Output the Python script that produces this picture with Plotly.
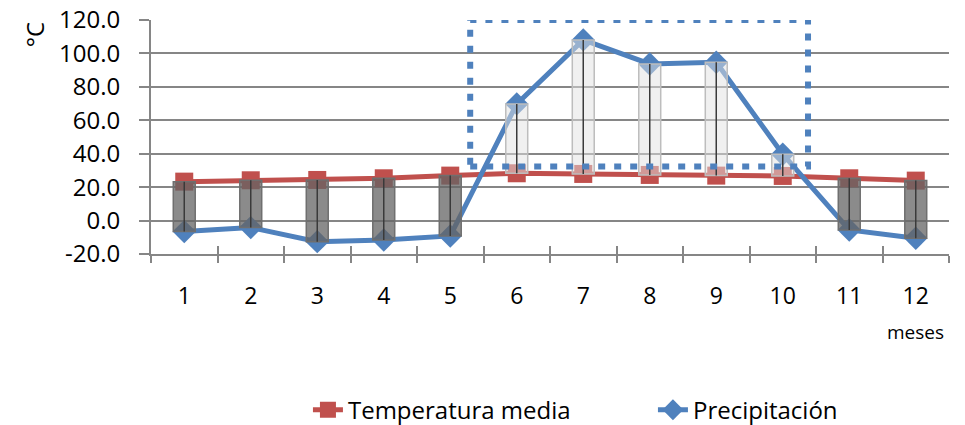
import plotly.graph_objects as go

# Monthly climate data
meses = ["1", "2", "3", "4", "5", "6", "7", "8", "9", "10", "11", "12"]
temperatura = [23.3, 24.1, 24.3, 25.3, 26.9, 28.3, 27.9, 27.3, 26.9, 26.7, 25.3, 23.9]
precipitacion = [-6.6, -4.2, -12.6, -11.6, -9.2, 69.8, 108.1, 93.7, 94.7, 39.7, -5.6, -10.6]

# Tick labels of the value axis
y_ticks = [-20, 0, 20, 40, 60, 80, 100, 120]

FONT = "Open Sans"
GRID = "#868686"
RED = "#c0504d"
BLUE = "#4f81bd"

# up/down bars between the two series
lo = [min(t, p) for t, p in zip(temperatura, precipitacion)]
hi = [max(t, p) for t, p in zip(temperatura, precipitacion)]
span = [h - l for h, l in zip(hi, lo)]
down = [p < t for t, p in zip(temperatura, precipitacion)]
bar_fill = ["rgba(100,100,100,0.75)" if d else "rgba(225,225,225,0.5)" for d in down]
bar_edge = ["#6f6f6f" if d else "#bdbdbd" for d in down]

# high-low connector lines
hl_x, hl_y = [], []
for m, l, h in zip(meses, lo, hi):
    hl_x += [m, m, None]
    hl_y += [l, h, None]

fig = go.Figure()

fig.add_trace(go.Scatter(
    x=meses, y=temperatura, name="Temperatura media", mode="lines+markers",
    line=dict(color=RED, width=5),
    marker=dict(symbol="square", size=18, color=RED),
    xaxis="x", yaxis="y",
))
fig.add_trace(go.Scatter(
    x=meses, y=precipitacion, name="Precipitación", mode="lines+markers",
    line=dict(color=BLUE, width=5),
    marker=dict(symbol="diamond", size=18, color=BLUE),
    xaxis="x", yaxis="y",
))

fig.add_trace(go.Bar(
    x=meses, y=span, base=lo, width=0.33,
    marker=dict(color=bar_fill, line=dict(color=bar_edge, width=1.5)),
    showlegend=False, hoverinfo="skip",
    xaxis="x2", yaxis="y2",
))
fig.add_trace(go.Scatter(
    x=hl_x, y=hl_y, mode="lines",
    line=dict(color="#3a3a3a", width=1.5),
    showlegend=False, hoverinfo="skip",
    xaxis="x2", yaxis="y2",
))

# dotted frame around the wet season
fig.add_shape(
    type="rect", xref="x", yref="y",
    x0=4.3, x1=9.38, y0=32.3, y1=120,
    line=dict(color=BLUE, width=6, dash="7px,9px"),
    layer="above",
)

xaxis_common = dict(
    type="category", categoryorder="array", categoryarray=meses,
    range=[-0.5, 11.5], tickson="boundaries", showgrid=False, zeroline=False,
    automargin=False,
)
yaxis_common = dict(range=[-20, 120], zeroline=False, automargin=False)

fig.update_layout(
    width=965, height=425,
    margin=dict(l=151, r=16, t=20, b=171, autoexpand=False),
    paper_bgcolor="white", plot_bgcolor="white",
    font=dict(family=FONT, size=24, color="#000000"),
    barmode="overlay",
    xaxis=dict(
        **xaxis_common,
        showline=True, linecolor=GRID, linewidth=2,
        ticks="outside", ticklen=7, tickcolor=GRID, tickwidth=2,
        ticklabelstandoff=20,
        tickfont=dict(family=FONT, size=23),
    ),
    xaxis2=dict(
        **xaxis_common, overlaying="x", anchor="y2", side="bottom",
        showline=False, showticklabels=False,
        ticks="inside", ticklen=8, tickcolor=GRID, tickwidth=2,
    ),
    yaxis=dict(
        **yaxis_common,
        tickmode="array", tickvals=y_ticks,
        ticktext=[f"{v:.1f}" for v in y_ticks],
        showgrid=True, gridcolor=GRID, gridwidth=1.5,
        showline=True, linecolor=GRID, linewidth=2,
        ticks="outside", ticklen=10, tickcolor=GRID, tickwidth=1.5,
        ticklabelstandoff=14,
        tickfont=dict(family=FONT, size=24),
    ),
    yaxis2=dict(
        **yaxis_common, overlaying="y", anchor="x2",
        showgrid=False, showline=False, showticklabels=False, ticks="",
    ),
    legend=dict(
        orientation="h", x=0.629, xanchor="center",
        yref="container", y=0.035, yanchor="middle",
        entrywidth=300, entrywidthmode="pixels",
        font=dict(family=FONT, size=24), bgcolor="rgba(0,0,0,0)",
    ),
    annotations=[
        dict(text="°C", xref="paper", yref="paper", x=-0.145, y=0.936,
             xanchor="center", yanchor="middle",
             showarrow=False, textangle=-90, font=dict(family=FONT, size=24)),
        dict(text="meses", xref="paper", yref="paper", x=0.958, y=-0.333,
             xanchor="center", yanchor="middle",
             showarrow=False, font=dict(family=FONT, size=19)),
    ],
    showlegend=True,
)

fig.write_html("out.html")
